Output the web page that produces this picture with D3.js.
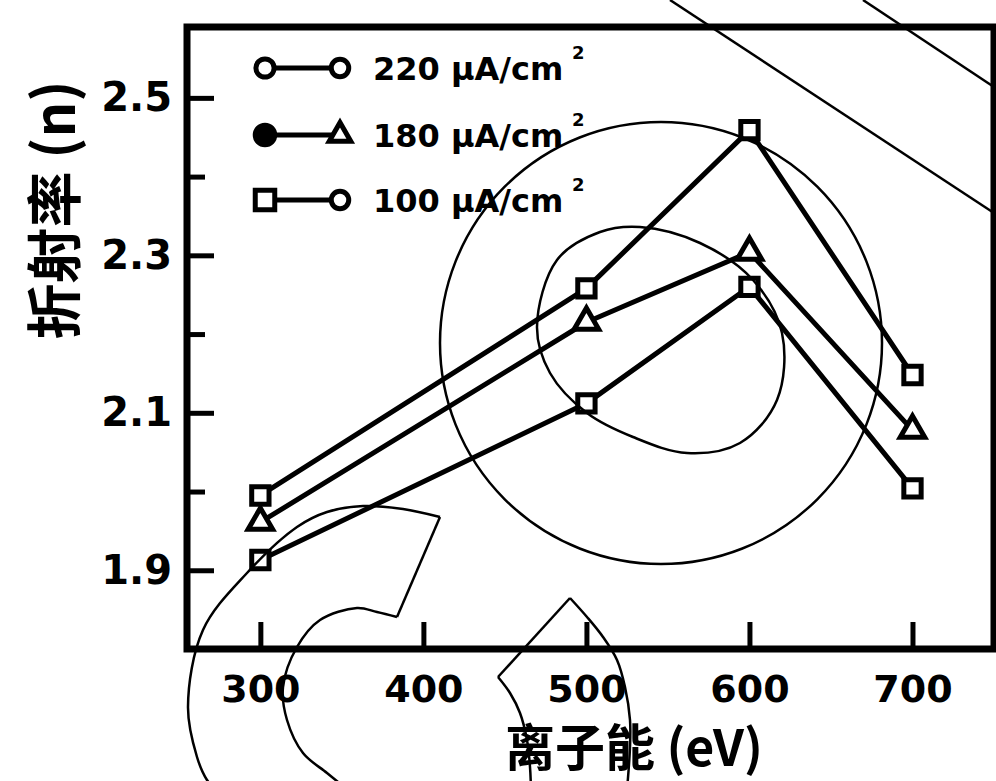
<!DOCTYPE html>
<html><head><meta charset="utf-8">
<script src="https://cdn.jsdelivr.net/npm/d3@7"></script>
<style>body{margin:0;background:#fff}svg{display:block}</style>
</head><body><svg id="c" width="996" height="781"></svg>
<script>
// ---- data ----
const energies = [300, 500, 600, 700];
const s220 = [1.995, 2.258, 2.459, 2.148];
const s180 = [1.961, 2.215, 2.304, 2.078];
const s100 = [1.913, 2.112, 2.260, 2.004];
const seriesLabels = ["220 μA/cm", "180 μA/cm", "100 μA/cm"];
const xTicks = [300, 400, 500, 600, 700];
const yMajorTicks = [1.9, 2.1, 2.3, 2.5];
const yMinorTicks = [2.0, 2.2, 2.4];
const yTitle = "折射率 (n)";
const xTitle = "离子能 (eV)";

// ---- overlay annotation strokes (pixel space, not data) ----
const overlayLines = [[[670,0],[994,213]], [[863,0],[994,87]]];
const overlayCircle = {cx:661, cy:343, r:221};
const innerBlob = [[537,327],[557,260],[600,232],[640,227],[700,243],[753,280],[782,333],[777,400],[740,443],[687,453],[633,437],[587,413],[550,373]];
const cOuter = [[216,790],[207,780],[197,757],[188,707],[203,630],[247,573],[297,527],[327,512],[363,506],[403,509],[440,517]];
const cJoin = [[440,517],[397,617]];
const cInner = [[397,617],[377,612],[357,608],[320,620],[297,647],[283,687],[287,720],[303,753],[327,773],[348,790]];
const aLeft = [[531,790],[530,767],[527,740],[520,713],[510,693],[498,677]];
const aJoin = [[498,677],[570,598]];
const aRight = [[570,598],[587,617],[603,637],[617,660],[625,687],[630,720],[630,747],[627,790]];

const svg = d3.select("#c");
const W = 996, H = 781;
svg.append("rect").attr("width", W).attr("height", H).attr("fill", "#fff");

const frame = {left:187, right:994, top:27, bottom:649};
const x = d3.scaleLinear().domain([255, 750]).range([frame.left, frame.right]);
const y = d3.scaleLinear().domain([1.8, 2.59]).range([frame.bottom, frame.top]);

const FONT = "'DejaVu Sans', sans-serif";
const CJK = "'Noto Sans CJK SC', 'Noto Sans CJK JP', sans-serif";

// x axis
const gx = svg.append("g").attr("transform", `translate(0,${frame.bottom})`)
  .call(d3.axisBottom(x).tickValues(xTicks).tickSize(-27).tickPadding(0).tickFormat(d3.format("d")));
gx.select(".domain").remove();
gx.selectAll(".tick line").attr("stroke", "#000").attr("stroke-width", 5);
gx.selectAll(".tick text").attr("y", 53).attr("dy", 0)
  .attr("font-family", FONT).attr("font-weight", "bold").attr("font-size", 38).attr("fill", "#000");

// y axis major
const gy = svg.append("g").attr("transform", `translate(${frame.left},0)`)
  .call(d3.axisLeft(y).tickValues(yMajorTicks).tickSize(-27).tickPadding(15).tickFormat(d3.format(".1f")));
gy.select(".domain").remove();
gy.selectAll(".tick line").attr("stroke", "#000").attr("stroke-width", 5);
gy.selectAll(".tick text").attr("font-family", FONT).attr("font-weight", "bold").attr("font-size", 40).attr("fill", "#000");

// y axis minor
const gym = svg.append("g").attr("transform", `translate(${frame.left},0)`)
  .call(d3.axisLeft(y).tickValues(yMinorTicks).tickSize(-18).tickFormat(""));
gym.select(".domain").remove();
gym.selectAll(".tick line").attr("stroke", "#000").attr("stroke-width", 5);

// frame
svg.append("path")
  .attr("d", `M${frame.left},${frame.top}H${frame.right}V${frame.bottom}H${frame.left}Z`)
  .attr("fill", "none").attr("stroke", "#000").attr("stroke-width", 7);

// series
const series = [
  {vals: s220, sym: d3.symbolSquare, size: 300},
  {vals: s180, sym: d3.symbolTriangle, size: 260},
  {vals: s100, sym: d3.symbolSquare, size: 300}
];
const line = d3.line().x(d => x(d[0])).y(d => y(d[1]));
series.forEach(s => {
  const pts = energies.map((e, i) => [e, s.vals[i]]);
  svg.append("path").attr("d", line(pts)).attr("fill", "none")
    .attr("stroke", "#000").attr("stroke-width", 5).attr("stroke-linejoin", "round");
  svg.selectAll(null).data(pts).enter().append("path")
    .attr("d", d3.symbol().type(s.sym).size(s.size))
    .attr("transform", d => `translate(${x(d[0])},${y(d[1])})`)
    .attr("fill", "#fff").attr("stroke", "#000").attr("stroke-width", 5);
});

// legend
const legRows = [68, 135, 200];
const legStyle = [
  {l: d3.symbolCircle, lFill:"#fff", lSize:260, r: d3.symbolCircle, rSize:240},
  {l: d3.symbolCircle, lFill:"#000", lSize:300, r: d3.symbolTriangle, rSize:200},
  {l: d3.symbolSquare, lFill:"#fff", lSize:380, r: d3.symbolCircle, rSize:240}
];
seriesLabels.forEach((lab, i) => {
  const yy = legRows[i], st = legStyle[i];
  svg.append("line").attr("x1", 263).attr("x2", 340).attr("y1", yy).attr("y2", yy)
    .attr("stroke", "#000").attr("stroke-width", 5);
  svg.append("path").attr("d", d3.symbol().type(st.l).size(st.lSize)())
    .attr("transform", `translate(265,${yy})`).attr("fill", st.lFill).attr("stroke", "#000").attr("stroke-width", 5);
  svg.append("path").attr("d", d3.symbol().type(st.r).size(st.rSize)())
    .attr("transform", `translate(340,${yy})`).attr("fill", "#fff").attr("stroke", "#000").attr("stroke-width", 5);
  svg.append("text").attr("x", 373).attr("y", yy + 12)
    .attr("font-family", FONT).attr("font-weight", "bold").attr("font-size", 32).attr("fill", "#000")
    .text(lab);
  svg.append("text").attr("x", 572).attr("y", yy - 9)
    .attr("font-family", FONT).attr("font-weight", "bold").attr("font-size", 18).attr("fill", "#000")
    .text("2");
});

// axis titles
svg.append("text").attr("transform", "translate(50,210) rotate(-90)")
  .attr("text-anchor", "middle").attr("dominant-baseline", "central")
  .attr("font-family", CJK).attr("font-weight", "bold").attr("font-size", 56).attr("fill", "#000")
  .text(yTitle);
svg.append("text").attr("x", 634).attr("y", 744)
  .attr("text-anchor", "middle").attr("dominant-baseline", "central")
  .attr("font-family", CJK).attr("font-weight", "bold").attr("font-size", 50).attr("fill", "#000")
  .text(xTitle);

// overlay strokes
const ov = svg.append("g").attr("fill", "none").attr("stroke", "#000").attr("stroke-width", 2.5);
const straight = d3.line();
const smooth = d3.line().curve(d3.curveCatmullRom);
overlayLines.forEach(l => ov.append("path").attr("d", straight(l)));
ov.append("circle").attr("cx", overlayCircle.cx).attr("cy", overlayCircle.cy).attr("r", overlayCircle.r);
ov.append("path").attr("d", d3.line().curve(d3.curveCatmullRomClosed)(innerBlob));
ov.append("path").attr("d", smooth(cOuter));
ov.append("path").attr("d", straight(cJoin));
ov.append("path").attr("d", smooth(cInner));
ov.append("path").attr("d", smooth(aLeft));
ov.append("path").attr("d", straight(aJoin));
ov.append("path").attr("d", smooth(aRight));
</script>
</body></html>
